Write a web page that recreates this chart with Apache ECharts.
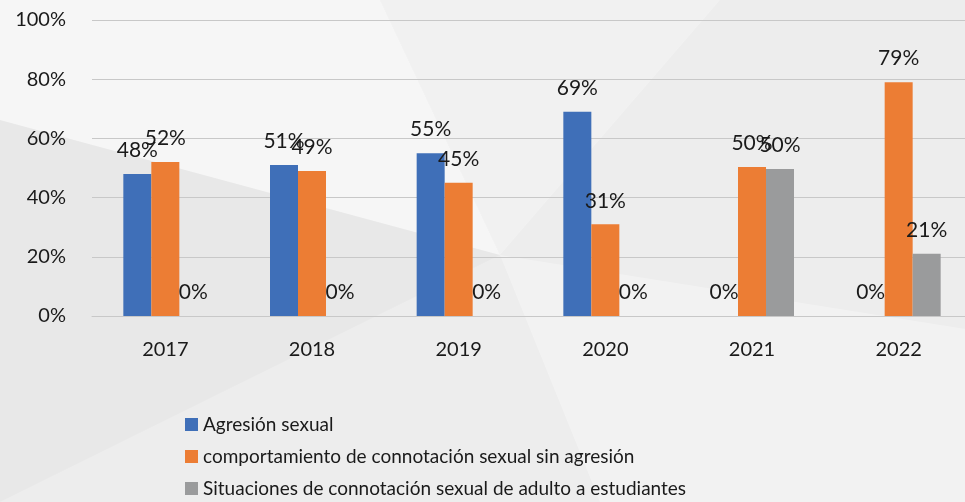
<!DOCTYPE html>
<html>
<head>
<meta charset="utf-8">
<script src="https://cdn.jsdelivr.net/npm/echarts@6/dist/echarts.min.js"></script>
<style>
html, body { margin: 0; padding: 0; overflow: hidden; }
#chart { width: 972px; height: 502px; }
</style>
</head>
<body>
<div id="chart"></div>
<script>
// datos
var years = ['2017', '2018', '2019', '2020', '2021', '2022'];
var seriesNames = [
	'Agresión sexual',
	'comportamiento de connotación sexual sin agresión',
	'Situaciones de connotación sexual de adulto a estudiantes'
];
var agresion = [48, 51, 55, 69, 0, 0];
var comportamiento = [52, 49, 45, 31, 50.3, 79];
var situaciones = [0, 0, 0, 0, 49.7, 21];
var yTicks = [0, 20, 40, 60, 80, 100];

var colors = ['#3F6FB8', '#EC7D34', '#9A9B9C'];
var font = 'Lato';

function makeSeries(name, data, color) {
	return {
		name: name,
		type: 'bar',
		data: data,
		barWidth: 28,
		barGap: '0%',
		itemStyle: { color: color },
		label: {
			show: true,
			position: 'top',
			distance: 13,
			fontFamily: font,
			fontSize: 21,
			color: '#1a1a1a',
			formatter: function(p) { return Math.round(p.value) + '%'; }
		}
	};
}

var chart = echarts.init(document.getElementById('chart'));
var option = {
	backgroundColor: '#ededed',
	graphic: [
		{ type: 'polygon', z: -10, shape: { points: [[0, 0], [380, 0], [500, 255], [0, 120]] }, style: { fill: 'rgba(255,255,255,0.5)' } },
		{ type: 'polygon', z: -10, shape: { points: [[380, 0], [720, 0], [500, 255]] }, style: { fill: 'rgba(255,255,255,0.25)' } },
		{ type: 'polygon', z: -10, shape: { points: [[500, 255], [972, 330], [972, 502], [600, 502]] }, style: { fill: 'rgba(255,255,255,0.3)' } },
		{ type: 'polygon', z: -10, shape: { points: [[0, 120], [500, 255], [0, 502]] }, style: { fill: 'rgba(0,0,0,0.02)' } }
	],
	grid: { left: 92, top: 20, right: 0, height: 296 },
	legend: {
		orient: 'vertical',
		left: 180,
		top: 410,
		height: 100,
		itemWidth: 13,
		itemHeight: 13,
		itemGap: 13,
		icon: 'rect',
		textStyle: { fontFamily: font, fontSize: 19, color: '#1a1a1a' },
		data: seriesNames
	},
	xAxis: {
		type: 'category',
		data: years,
		axisLine: { lineStyle: { color: '#c8c8c8' } },
		axisTick: { show: false },
		axisLabel: { fontFamily: font, fontSize: 20, color: '#1a1a1a', margin: 24 }
	},
	yAxis: {
		type: 'value',
		min: 0,
		max: 100,
		interval: 20,
		axisLine: { show: false },
		axisTick: { show: false },
		splitLine: { lineStyle: { color: '#c8c8c8' } },
		axisLabel: {
			fontFamily: font, fontSize: 20, color: '#1a1a1a', margin: 26,
			formatter: function(v) { return yTicks.indexOf(v) >= 0 ? v + '%' : ''; }
		}
	},
	series: [
		makeSeries(seriesNames[0], agresion, colors[0]),
		makeSeries(seriesNames[1], comportamiento, colors[1]),
		makeSeries(seriesNames[2], situaciones, colors[2])
	]
};
chart.setOption(option);
</script>
</body>
</html>
